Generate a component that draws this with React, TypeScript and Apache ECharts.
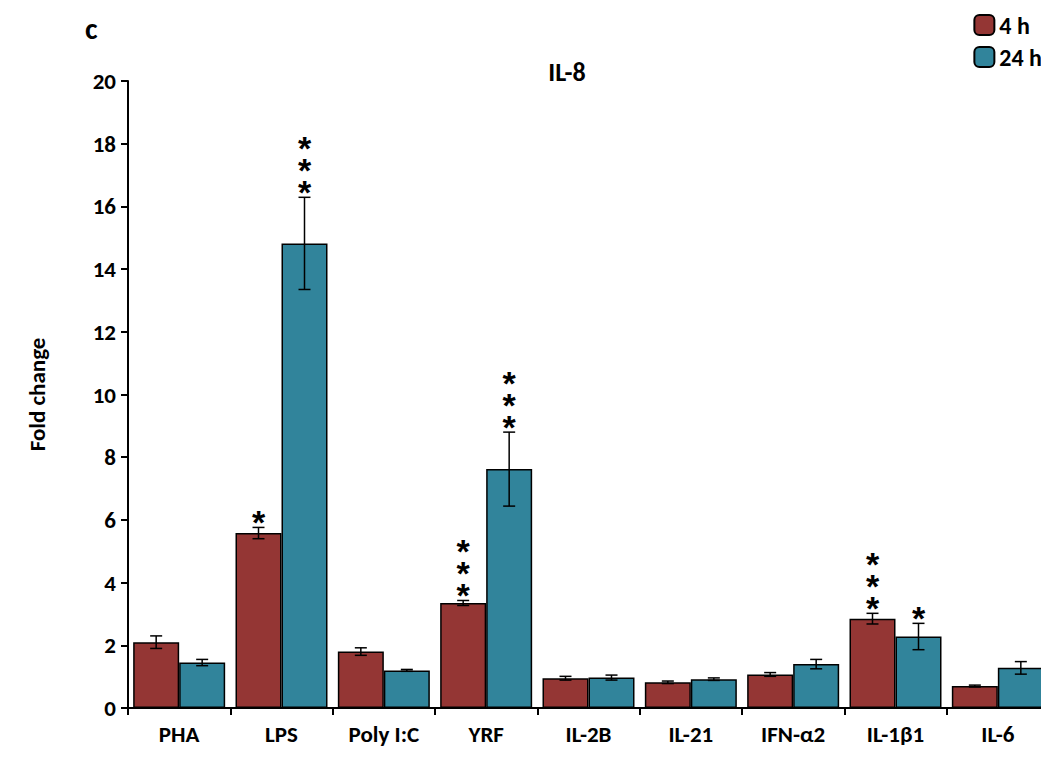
import React, { useEffect, useRef } from 'react';
import * as echarts from 'echarts';

const categories = ['PHA', 'LPS', 'Poly I:C', 'YRF', 'IL-2B', 'IL-21', 'IFN-α2', 'IL-1β1', 'IL-6'];
const values4h = [2.1, 5.58, 1.8, 3.35, 0.95, 0.82, 1.07, 2.85, 0.7];
const err4h = [0.2, 0.18, 0.12, 0.08, 0.06, 0.04, 0.06, 0.17, 0.03];
const stars4h = ['', '*', '', '***', '', '', '', '***', ''];
const values24h = [1.45, 14.82, 1.2, 7.62, 0.97, 0.92, 1.4, 2.28, 1.28];
const err24h = [0.1, 1.47, 0.03, 1.18, 0.08, 0.04, 0.15, 0.42, 0.2];
const stars24h = ['', '***', '', '***', '', '', '', '*', ''];

const BAR_W = 46;

function errSeries(vals: number[], errs: number[], stars: string[], offset: number) {
  return {
    type: 'custom',
    z: 10,
    data: vals.map((v, i) => [i, v, errs[i]]),
    renderItem: (_p: any, api: any) => {
      const i = api.value(0);
      const v = api.value(1);
      const e = api.value(2);
      const top = api.coord([i, v + e]);
      const bot = api.coord([i, v - e]);
      const x = top[0] + offset;
      const cap = 6;
      const children: any[] = [
        { type: 'line', shape: { x1: x, y1: top[1], x2: x, y2: bot[1] }, style: { stroke: '#000', lineWidth: 1.5 } },
        { type: 'line', shape: { x1: x - cap, y1: top[1], x2: x + cap, y2: top[1] }, style: { stroke: '#000', lineWidth: 1.5 } },
        { type: 'line', shape: { x1: x - cap, y1: bot[1], x2: x + cap, y2: bot[1] }, style: { stroke: '#000', lineWidth: 1.5 } },
      ];
      const s = stars[i];
      if (s) {
        children.push({
          type: 'text',
          style: {
            text: s.split('').join('\n'), x, y: top[1] + 6, fill: '#000',
            font: 'bold 34px "Liberation Sans", Arial', lineHeight: 22,
            align: 'center', verticalAlign: 'bottom',
          },
        });
      }
      return { type: 'group', children };
    },
  };
}

const App: React.FC = () => {
  const ref = useRef<HTMLDivElement>(null);

  useEffect(() => {
    if (!ref.current) return;
    const chart = echarts.init(ref.current, undefined, { renderer: 'svg' });
    const font = { fontFamily: 'Calibri, Carlito, "Liberation Sans", Arial', fontWeight: 'bold' as const, color: '#000' };
    chart.setOption({
      animation: false,
      textStyle: font,
      title: [
        { text: 'IL-8', left: 554, top: 46, textAlign: 'center', textStyle: { ...font, fontSize: 26 } },
        { text: 'c', left: 72, top: 0, textStyle: { ...font, fontSize: 30 } },
      ],
      legend: {
        orient: 'vertical', right: 2, top: 0, itemWidth: 20, itemHeight: 20, itemGap: 8,
        textStyle: { ...font, fontSize: 24 },
        data: ['4 h', '24 h'],
      },
      grid: { left: 120, right: 0, top: 73, bottom: 59 },
      xAxis: {
        type: 'category', data: categories,
        axisLine: { lineStyle: { color: '#000', width: 2 } },
        axisTick: { show: true, alignWithLabel: false, length: 7, lineStyle: { color: '#000', width: 2 } },
        axisLabel: { ...font, fontSize: 23, margin: 14 },
      },
      yAxis: {
        type: 'value', min: 0, max: 20, interval: 2,
        name: 'Fold change', nameLocation: 'middle', nameGap: 80,
        nameTextStyle: { ...font, fontSize: 23 },
        axisLine: { show: true, lineStyle: { color: '#000', width: 2 } },
        axisTick: { show: true, length: 7, lineStyle: { color: '#000', width: 2 } },
        axisLabel: { ...font, fontSize: 23, margin: 12 },
        splitLine: { show: false },
      },
      series: [
        { name: '4 h', type: 'bar', data: values4h, barWidth: BAR_W, barGap: '0%', itemStyle: { color: '#943634', borderColor: '#000', borderWidth: 1.5 } },
        { name: '24 h', type: 'bar', data: values24h, barWidth: BAR_W, barGap: '0%', itemStyle: { color: '#31849b', borderColor: '#000', borderWidth: 1.5 } },
        errSeries(values4h, err4h, stars4h, -BAR_W / 2),
        errSeries(values24h, err24h, stars24h, BAR_W / 2),
      ],
    });
    return () => chart.dispose();
  }, []);

  return <div ref={ref} style={{ width: 1041, height: 759 }} />;
};

export default App;
